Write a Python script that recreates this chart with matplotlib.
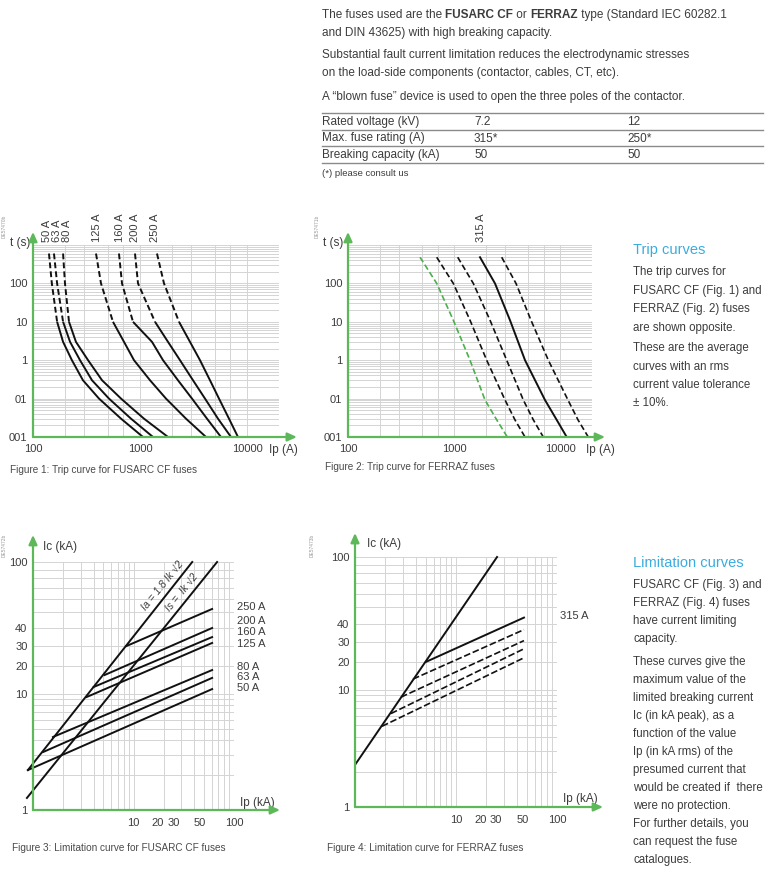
import numpy as np
import matplotlib
matplotlib.use('Agg')
import matplotlib.pyplot as plt
from matplotlib.lines import Line2D
import matplotlib.transforms as mtransforms
from matplotlib.ticker import FixedLocator, NullFormatter

plt.rcParams['font.family'] = ['Liberation Sans', 'DejaVu Sans']

W, H = 770, 884

# ---------------- data ----------------
# Figure 1: trip curves FUSARC CF (time s vs current A)
trip_t = [600, 100, 10, 3, 1, 0.3, 0.1, 0.03, 0.01]
fusarc_labels = ['50 A', '63 A', '80 A', '125 A', '160 A', '200 A', '250 A']
fusarc_50 = [141, 150, 168, 191, 231, 293, 414, 665, 1067]
fusarc_63 = [157, 168, 191, 222, 275, 356, 513, 824, 1323]
fusarc_80 = [191, 199, 217, 252, 327, 442, 665, 1090, 1827]
fusarc_125 = [388, 432, 559, 709, 879, 1241, 1750, 2691, 4139]
fusarc_160 = [636, 679, 860, 1295, 1641, 2265, 3062, 4229, 5715]
fusarc_200 = [898, 958, 1381, 1827, 2365, 3129, 4051, 5358, 7088]
fusarc_250 = [1441, 1676, 2315, 2933, 3637, 4510, 5474, 6789, 8238]

# Figure 2: trip curves FERRAZ
ferraz_t = [480, 100, 11, 1, 0.092, 0.028, 0.01]
ferraz_green = [478, 687, 985, 1416, 1961, 2529, 3184]
ferraz_d1 = [687, 985, 1416, 2034, 3030, 3758, 4677]
ferraz_d2 = [1084, 1521, 2187, 3142, 4508, 5601, 6955]
ferraz_315 = [1759, 2436, 3375, 4677, 7216, 9304, 11570]
ferraz_d3 = [2818, 3845, 5325, 7762, 11890, 14780, 18490]

# Figure 3: limitation curves FUSARC CF (Ic kA vs Ip kA)
ia_ip = [0.89, 38.4]
ia_ic = [2.21, 100]
is_ip = [0.87, 67.9]
is_ic = [1.27, 100]
lim_fusarc_labels = ['50 A', '63 A', '80 A', '125 A', '160 A', '200 A', '250 A']
lim_fusarc_ip_start = [0.89, 1.26, 1.58, 3.42, 4.02, 5.16, 8.53]
lim_fusarc_ic_start = [2.21, 3.16, 4.26, 9.42, 11.9, 16.0, 30.0]
lim_fusarc_ip_end = [60.6, 60.6, 60.6, 60.6, 60.6, 60.6, 60.6]
lim_fusarc_ic_end = [11.3, 14.9, 18.1, 31.5, 34.6, 40.0, 52.1]

# Figure 4: limitation curves FERRAZ
ferraz_main_ip = [1.02, 25.5]
ferraz_main_ic = [2.35, 100]
lim_ferraz_ip_start = [5.05, 3.75, 2.85, 2.27, 1.85]
lim_ferraz_ic_start = [20.0, 13.1, 8.7, 6.3, 4.9]
lim_ferraz_ip_end = [47.1, 47.1, 47.1, 47.1, 47.1]
lim_ferraz_ic_end = [43.4, 36.3, 30.5, 26.0, 21.7]

trip_xticks = [100, 1000, 10000]
trip_xlabels = ['100', '1000', '10000']
trip_yticks = [0.01, 0.1, 1, 10, 100, 1000]
trip_ylabels = ['001', '01', '1', '10', '100', '']
lim_xticks = [10, 20, 30, 50, 100]
lim_xlabels = ['10', '20', '30', '50', '100']
lim_yticks = [1, 10, 20, 30, 40, 100]
lim_ylabels = ['1', '10', '20', '30', '40', '100']

# ---------------- style ----------------
GREEN = '#5db85a'
GRID = '#d4d4d4'
TXT = '#3c3c3c'
BLUE = '#39ace0'
LW = 1.4

fig = plt.figure(figsize=(W / 100, H / 100), dpi=100)


def px_axes(left, top, right, bottom):
    return fig.add_axes([left / W, 1 - bottom / H, (right - left) / W, (bottom - top) / H])


def ftext(x, y, s, **kw):
    kw.setdefault('color', TXT)
    kw.setdefault('va', 'center')
    return fig.text(x / W, 1 - y / H, s, **kw)


def arrows(ax, xtip, ytip):
    for xy in [(xtip, 0), (0, ytip)]:
        ax.annotate('', xy=xy, xycoords='axes fraction', xytext=(0, 0),
                    textcoords='axes fraction',
                    arrowprops=dict(arrowstyle='-|>,head_length=0.55,head_width=0.25',
                                    color=GREEN, lw=1.6, shrinkA=0, shrinkB=0),
                    annotation_clip=False, zorder=5)


def base_style(ax):
    for s in ax.spines.values():
        s.set_visible(False)
    ax.tick_params(which='both', length=0, labelsize=8, labelcolor=TXT)
    ax.set_facecolor('none')


# ---------------- trip curves ----------------
def trip_axes(left, right):
    ax = px_axes(left, 245, right, 437)
    ax.set_xscale('log')
    ax.set_yscale('log')
    ax.set_xlim(100, 20000)
    ax.set_ylim(0.01, 1000)
    base_style(ax)
    ax.set_xticks(trip_xticks)
    ax.set_xticklabels(trip_xlabels)
    ax.set_yticks(trip_yticks)
    ax.set_yticklabels(trip_ylabels)
    ax.xaxis.set_minor_locator(FixedLocator([200, 300, 500, 700, 2000, 3000, 5000, 7000, 20000]))
    ax.yaxis.set_minor_locator(FixedLocator(
        [m * 10.0 ** e for e in range(-2, 3) for m in range(2, 10)]))
    ax.xaxis.set_minor_formatter(NullFormatter())
    ax.yaxis.set_minor_formatter(NullFormatter())
    ax.grid(True, which='both', color=GRID, lw=0.7, zorder=0)
    ax.tick_params(axis='x', pad=5)
    ax.tick_params(axis='y', pad=4)
    ax.set_axisbelow(True)
    return ax


ax1 = trip_axes(33, 279.2)
arrows(ax1, 1.072, 1.068)
fus_curves = [fusarc_50, fusarc_63, fusarc_80, fusarc_125, fusarc_160, fusarc_200, fusarc_250]
label_dx = [-2, 3, 4, 1, 1, 0, -2]
for cur, lab, dx in zip(fus_curves, fusarc_labels, label_dx):
    ax1.plot(cur[:3], trip_t[:3], color='#111', lw=LW, dashes=(3, 1.6), zorder=3)
    ax1.plot(cur[2:], trip_t[2:], color='#111', lw=LW, zorder=3, solid_capstyle='butt',
             solid_joinstyle='round')
    ax1.annotate(lab, xy=(cur[0], 1.016), xycoords=('data', 'axes fraction'),
                 xytext=(dx * 0.72, 0), textcoords='offset points',
                 rotation=90, ha='center', va='bottom', fontsize=8, color=TXT,
                 annotation_clip=False)
ax1.text(-0.01, 1.01, 't (s)', transform=ax1.transAxes, ha='right', va='center',
         fontsize=8.5, color=TXT)
ax1.text(1.016, -0.068, 'Ip (A)', transform=ax1.transAxes, ha='center', va='center',
         fontsize=8.5, color=TXT)

ax2 = trip_axes(348, 591.9)
arrows(ax2, 1.054, 1.068)
ax2.plot(ferraz_green, ferraz_t, color='#4cae4c', lw=1.2, dashes=(3.5, 1.8), zorder=3)
for cur in [ferraz_d1, ferraz_d2, ferraz_d3]:
    ax2.plot(cur, ferraz_t, color='#111', lw=1.2, dashes=(3.5, 1.8), zorder=3)
ax2.plot(ferraz_315, ferraz_t, color='#111', lw=LW, zorder=3, solid_joinstyle='round')
ax2.annotate('315 A', xy=(ferraz_315[0], 1.016), xycoords=('data', 'axes fraction'),
             xytext=(1, 0), textcoords='offset points',
             rotation=90, ha='center', va='bottom', fontsize=8, color=TXT,
             annotation_clip=False)
ax2.text(-0.02, 1.01, 't (s)', transform=ax2.transAxes, ha='right', va='center',
         fontsize=8.5, color=TXT)
ax2.text(1.033, -0.068, 'Ip (A)', transform=ax2.transAxes, ha='center', va='center',
         fontsize=8.5, color=TXT)

# ---------------- limitation curves ----------------
LOGK = np.array([-3, 0, 1, np.log10(20), np.log10(30), np.log10(40), 2, 4])
POSK = np.array([-1.403, 0, 0.4677, 0.5806, 0.6613, 0.7339, 1.0, 2.337])


def yfwd(v):
    v = np.asarray(v, dtype=float)
    l = np.log10(np.where(v > 0, v, 1e-3))
    return np.interp(l, LOGK, POSK)


def yinv(p):
    p = np.asarray(p, dtype=float)
    return 10 ** np.interp(p, POSK, LOGK)


def lim_axes(left, top, right, bottom):
    ax = px_axes(left, top, right, bottom)
    ax.set_xscale('log')
    ax.set_yscale('function', functions=(yfwd, yinv))
    ax.set_xlim(1, 100)
    ax.set_ylim(1, 100)
    base_style(ax)
    ax.xaxis.set_major_locator(FixedLocator(lim_xticks))
    ax.set_xticklabels(lim_xlabels)
    ax.yaxis.set_major_locator(FixedLocator(lim_yticks))
    ax.set_yticklabels(lim_ylabels)
    ax.xaxis.set_minor_locator(FixedLocator(
        [m * 10.0 ** e for e in range(0, 2) for m in range(2, 10)]))
    ax.yaxis.set_minor_locator(FixedLocator(list(range(2, 10)) + [50, 60, 70, 80, 90]))
    ax.xaxis.set_minor_formatter(NullFormatter())
    ax.yaxis.set_minor_formatter(NullFormatter())
    ax.grid(True, which='both', color=GRID, lw=0.7, zorder=0)
    ax.tick_params(axis='x', pad=6)
    ax.tick_params(axis='y', pad=4)
    ax.set_axisbelow(True)
    # nudge the crowded 20 / 30 labels as in the reference
    for lab, dx in zip(ax.get_xticklabels(), [0, -6, -8, -4, 0]):
        lab.set_transform(lab.get_transform() +
                          mtransforms.ScaledTranslation(dx / 100, 0, fig.dpi_scale_trans))
    return ax


ax3 = lim_axes(33, 562, 234, 810)
arrows(ax3, 1.229, 1.109)
ax3.plot(ia_ip, ia_ic, color='#111', lw=LW, clip_on=False, zorder=3)
ax3.plot(is_ip, is_ic, color='#111', lw=LW, clip_on=False, zorder=3)
lab_dy = [1, 1, 3, -1, 5, 7, 2]
for x0, y0, x1, y1, lab, dy in zip(lim_fusarc_ip_start, lim_fusarc_ic_start,
                                   lim_fusarc_ip_end, lim_fusarc_ic_end,
                                   lim_fusarc_labels, lab_dy):
    ax3.plot([x0, x1], [y0, y1], color='#111', lw=LW, clip_on=False, zorder=3)
    ax3.annotate(lab, xy=(x1, y1), xytext=(25 * 0.72, dy * 0.72),
                 textcoords='offset points', ha='left', va='center',
                 fontsize=8, color=TXT, annotation_clip=False)
ax3.text(19.4, 71.7, 'Ia = 1.8 Ik √2', rotation=51, ha='center', va='center',
         fontsize=7.5, style='italic', color=TXT)
ax3.text(30.6, 65.9, 'Is =  Ik √2', rotation=51, ha='center', va='center',
         fontsize=7.5, style='italic', color=TXT)
ax3.text(0.05, 1.06, 'Ic (kA)', transform=ax3.transAxes, ha='left', va='center',
         fontsize=8.5, color=TXT)
ax3.text(1.114, 0.028, 'Ip (kA)', transform=ax3.transAxes, ha='center', va='center',
         fontsize=8.5, color=TXT)

ax4 = lim_axes(355, 557, 557, 807)
arrows(ax4, 1.228, 1.096)
ax4.plot(ferraz_main_ip, ferraz_main_ic, color='#111', lw=LW, clip_on=False, zorder=3)
for i, (x0, y0, x1, y1) in enumerate(zip(lim_ferraz_ip_start, lim_ferraz_ic_start,
                                         lim_ferraz_ip_end, lim_ferraz_ic_end)):
    if i == 0:
        ax4.plot([x0, x1], [y0, y1], color='#111', lw=LW, zorder=3)
        ax4.annotate('315 A', xy=(x1, y1), xytext=(36 * 0.72, 2 * 0.72),
                     textcoords='offset points', ha='left', va='center',
                     fontsize=8, color=TXT, annotation_clip=False)
    else:
        ax4.plot([x0, x1], [y0, y1], color='#111', lw=1.2, dashes=(4, 1.6), zorder=3)
ax4.text(0.059, 1.052, 'Ic (kA)', transform=ax4.transAxes, ha='left', va='center',
         fontsize=8.5, color=TXT)
ax4.text(1.114, 0.032, 'Ip (kA)', transform=ax4.transAxes, ha='center', va='center',
         fontsize=8.5, color=TXT)

# ---------------- captions / codes ----------------
CAP = '#4a4a4a'
ftext(10, 470, 'Figure 1: Trip curve for FUSARC CF fuses', fontsize=7.2, color=CAP)
ftext(325, 467, 'Figure 2: Trip curve for FERRAZ fuses', fontsize=7.2, color=CAP)
ftext(12, 848, 'Figure 3: Limitation curve for FUSARC CF fuses', fontsize=7.2, color=CAP)
ftext(327, 848, 'Figure 4: Limitation curve for FERRAZ fuses', fontsize=7.2, color=CAP)
for x, y, s in [(4, 226, 'DE57470b'), (317, 226, 'DE57471b'),
                (4, 545, 'DE57472b'), (312, 545, 'DE57473b')]:
    ftext(x, y, s, fontsize=3.5, rotation=90, ha='center', color='#999999')

# ---------------- top text block ----------------
renderer = fig.canvas.get_renderer()


def text_width(s, **kw):
    t1 = fig.text(0, 0, 'X' + s + 'X', **kw)
    t2 = fig.text(0, 0, 'XX', **kw)
    w = t1.get_window_extent(renderer).width - t2.get_window_extent(renderer).width
    t1.remove()
    t2.remove()
    return w


def runs(x, y, parts, size):
    for s, wgt in parts:
        ftext(x, y, s, fontsize=size, fontweight=wgt, ha='left')
        x += text_width(s, fontsize=size, fontweight=wgt)


TOP = 8.5
runs(322, 15, [('The fuses used are the ', 'normal'), ('FUSARC CF', 'bold'),
               (' or ', 'normal'), ('FERRAZ', 'bold'),
               (' type (Standard IEC 60282.1', 'normal')], TOP)
ftext(322, 33, 'and DIN 43625) with high breaking capacity.', fontsize=TOP, ha='left')
ftext(322, 55, 'Substantial fault current limitation reduces the electrodynamic stresses',
      fontsize=TOP, ha='left')
ftext(322, 73, 'on the load-side components (contactor, cables, CT, etc).',
      fontsize=TOP, ha='left')
ftext(322, 97, 'A \u201cblown fuse\u201d device is used to open the three poles of the contactor.',
      fontsize=TOP, ha='left')

table_rows = ['Rated voltage (kV)', 'Max. fuse rating (A)', 'Breaking capacity (kA)']
table_72 = ['7.2', '315*', '50']
table_12 = ['12', '250*', '50']
for yl in [113, 130, 146, 163]:
    fig.add_artist(Line2D([322 / W, 763 / W], [1 - yl / H, 1 - yl / H],
                          color='#8a8a8a', lw=1.0))
for i, (a, b, c) in enumerate(zip(table_rows, table_72, table_12)):
    y = 122 + i * 16.5
    ftext(322, y, a, fontsize=TOP, ha='left')
    ftext(474, y, b, fontsize=TOP, ha='left')
    ftext(627, y, c, fontsize=TOP, ha='left')
ftext(322, 173, '(*) please consult us', fontsize=6.8, ha='left')

# ---------------- right column ----------------
ftext(633, 250, 'Trip curves', fontsize=10.5, color=BLUE, ha='left')
trip_lines = ['The trip curves for', 'FUSARC CF (Fig. 1) and', 'FERRAZ (Fig. 2) fuses',
              'are shown opposite.']
for i, s in enumerate(trip_lines):
    ftext(633, 272 + i * 18.7, s, fontsize=8.3, ha='left')
trip_lines2 = ['These are the average', 'curves with an rms',
               'current value tolerance', '\u00b1 10%.']
for i, s in enumerate(trip_lines2):
    ftext(633, 348 + i * 18.5, s, fontsize=8.3, ha='left')

ftext(633, 563, 'Limitation curves', fontsize=10.5, color=BLUE, ha='left')
lim_lines = ['FUSARC CF (Fig. 3) and', 'FERRAZ (Fig. 4) fuses', 'have current limiting',
             'capacity.']
for i, s in enumerate(lim_lines):
    ftext(633, 585 + i * 18, s, fontsize=8.3, ha='left')
lim_lines2 = ['These curves give the', 'maximum value of the', 'limited breaking current',
              'Ic (in kA peak), as a', 'function of the value', 'Ip (in kA rms) of the',
              'presumed current that', 'would be created if  there', 'were no protection.',
              'For further details, you', 'can request the fuse', 'catalogues.']
for i, s in enumerate(lim_lines2):
    ftext(633, 662 + i * 18, s, fontsize=8.3, ha='left')

fig.savefig('out.png', dpi=100)
